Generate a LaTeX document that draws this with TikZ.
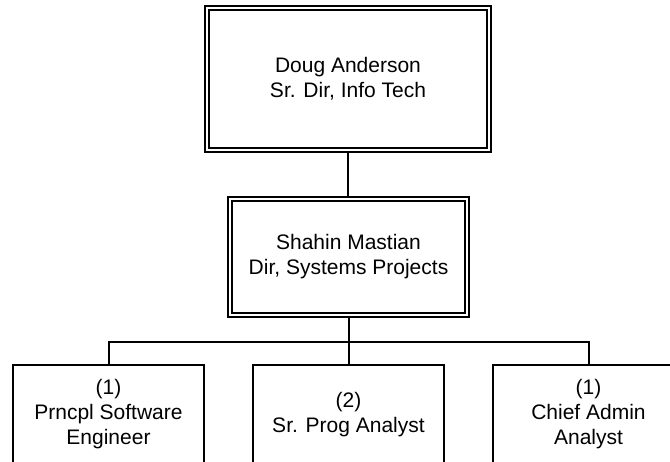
\documentclass[tikz,border=0pt]{standalone}
\usepackage{fontspec}
\setmainfont{Liberation Sans}
\begin{document}
\begin{tikzpicture}[x=1pt,y=-1pt,
  txt/.style={align=center, font=\fontsize{21}{25}\selectfont},
  dbox/.style={txt, draw, line width=2pt, double=white, double distance=2.4pt, inner sep=0pt, outer sep=3.2pt},
  sbox/.style={txt, draw, line width=2pt, minimum width=191pt, minimum height=99pt, inner sep=0pt, outer sep=1pt},
  conn/.style={line width=2pt}]
\useasboundingbox (0,0) rectangle (670,461);
\clip (0,0) rectangle (670,461);
\node[dbox, minimum width=281.5pt, minimum height=141.5pt] (doug) at (348,79) {Doug Anderson\\Sr. Dir, Info Tech};
\node[dbox, minimum width=236.6pt, minimum height=115.6pt] (shahin) at (348.5,257) {Shahin Mastian\\Dir, Systems Projects};
\node[sbox] (p1) at (108.5,414.5) {(1)\\Prncpl Software\\Engineer};
\node[sbox] (p2) at (348.5,414.5) {(2)\\Sr. Prog Analyst};
\node[sbox] (p3) at (588.5,414.5) {(1)\\Chief Admin\\Analyst};
\coordinate (bus) at (348.5,342);
\draw[conn] (doug.south) -- (doug.south |- shahin.north);
\draw[conn] (shahin.south) -- (p2.north);
\draw[conn] (p1.north) -- (p1.north |- bus) -- (p3.north |- bus) -- (p3.north);
\end{tikzpicture}
\end{document}
